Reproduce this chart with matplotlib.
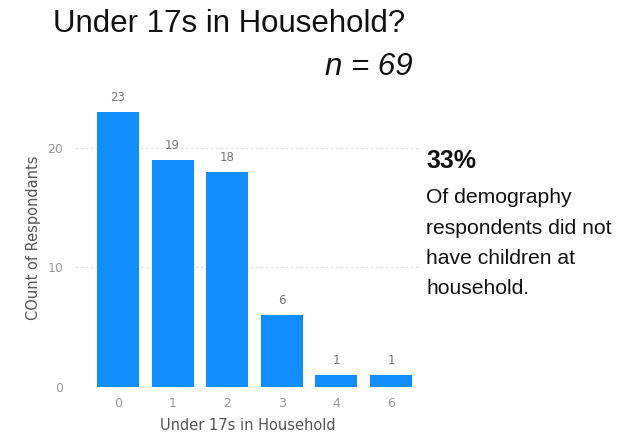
import numpy as np
import matplotlib
matplotlib.use('Agg')
from matplotlib import pyplot as plt

# data
categories = ['0', '1', '2', '3', '4', '6']
counts = [23, 19, 18, 6, 1, 1]
y_ticks = [0, 10, 20]

title = 'Under 17s in Household?'
stat = '33%'
stat_text = ['Of demography', 'respondents did not', 'have children at', 'household.']

BAR_COLOR = '#118DFF'
GREY = '#9a9a9a'
W, H = 623, 434

fig = plt.figure(figsize=(6.23, 4.34), dpi=100)
ax = fig.add_axes([76 / W, 47 / H, 344 / W, 299 / H])

x = np.arange(len(categories))
ax.bar(x, counts, width=0.77, color=BAR_COLOR, zorder=2)
for xi, v in zip(x, counts):
    ax.text(xi, v + 0.65, str(v), ha='center', va='bottom', fontsize=8.5, color='#777777')

ax.set_xlim(-0.77, 5.53)
ax.set_ylim(0, 25)
ax.set_xticks(x)
ax.set_xticklabels(categories)
ax.set_yticks(y_ticks)
ax.tick_params(axis='x', length=0, labelsize=9, colors=GREY, pad=7)
ax.tick_params(axis='y', length=0, labelsize=9, colors=GREY, pad=9)
ax.yaxis.grid(True, linestyle=(0, (1, 3)), color='#c8c8c8', linewidth=0.9, zorder=0)
for s in ax.spines.values():
    s.set_visible(False)

ax.set_xlabel('Under 17s in Household', fontsize=10.5, color='#555555', labelpad=6)
ax.set_ylabel('COunt of Respondants', fontsize=10.5, color='#555555', labelpad=5)

fig.text(53 / W, 1 - 32 / H, title, fontsize=22.5, family='Liberation Sans',
         ha='left', va='baseline', color='#111111')
fig.text(413 / W, 1 - 75 / H, 'n = 69', fontsize=22.5, family='Liberation Sans',
         style='italic', ha='right', va='baseline', color='#111111')

fig.text(426 / W, 1 - 168 / H, stat, fontsize=18, family='Liberation Sans',
         weight='bold', ha='left', va='baseline', color='#111111')
for i, line in enumerate(stat_text):
    fig.text(426 / W, 1 - (203 + i * 30.5) / H, line, fontsize=15.2,
             family='Liberation Sans', ha='left', va='baseline', color='#111111')

fig.savefig('out.png', dpi=100, facecolor='white')
